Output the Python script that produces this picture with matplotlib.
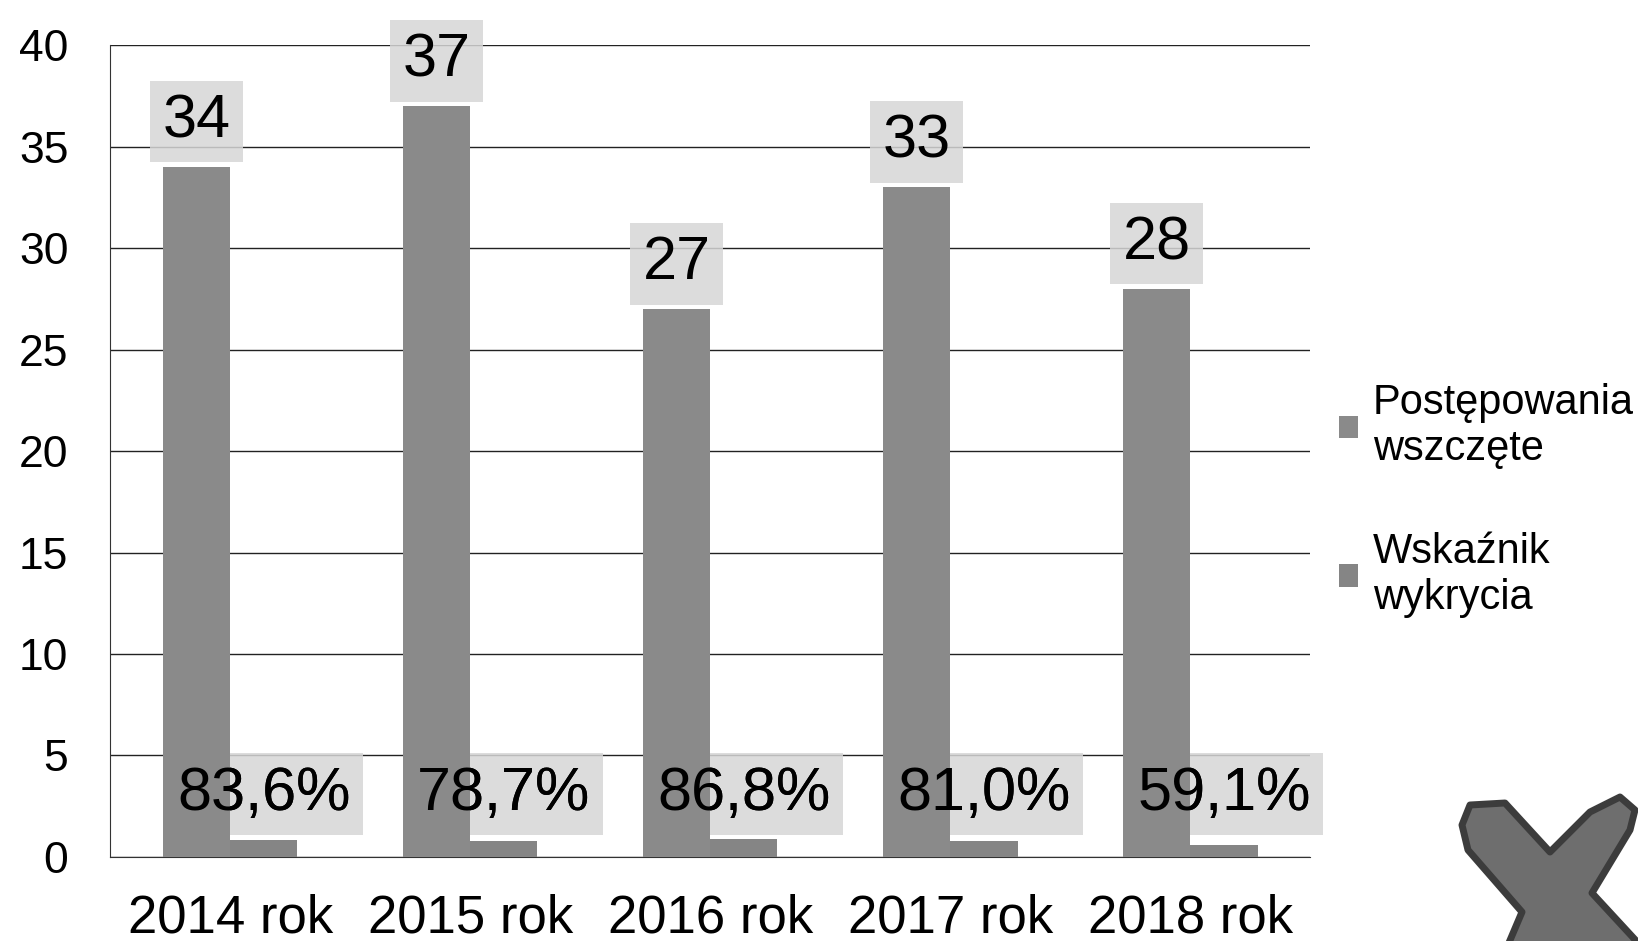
import numpy as np
import matplotlib
matplotlib.use("Agg")
import matplotlib.pyplot as plt
from matplotlib.patches import Polygon

plt.rcParams['font.family'] = ['Liberation Sans', 'DejaVu Sans']

years = ['2014 rok', '2015 rok', '2016 rok', '2017 rok', '2018 rok']
wszczete = [34, 37, 27, 33, 28]
wskaznik = [83.6, 78.7, 86.8, 81.0, 59.1]  # in percent
wskaznik_labels = ['83,6%', '78,7%', '86,8%', '81,0%', '59,1%']
y_ticks = [0, 5, 10, 15, 20, 25, 30, 35, 40]

fig = plt.figure(figsize=(16.38, 9.41), dpi=100)
ax = fig.add_axes([0.0672, 0.0893, 0.7328, 0.8627])

x = np.arange(len(years))
w = 0.28
c1 = '#8a8a8a'
c2 = '#858585'
box = dict(boxstyle='square,pad=0.2', facecolor='#d6d6d6', edgecolor='none', alpha=0.85)

ax.bar(x - w / 2, wszczete, w, color=c1, label='Postępowania\nwszczęte', zorder=3)
ax.bar(x + w / 2, np.array(wskaznik) / 100, w, color=c2, label='Wskaźnik\nwykrycia', zorder=3)

for xi, v in zip(x, wszczete):
    ax.annotate(str(v), (xi - w / 2, v), xytext=(0, 12), textcoords='offset points',
                ha='center', va='bottom', fontsize=44, bbox=box, zorder=4)

for xi, lab in zip(x, wskaznik_labels):
    ax.text(xi + w / 2, 3.1, lab, ha='center', va='center', fontsize=44,
            bbox=box, zorder=2)
    ax.text(xi + w / 2, 3.1, lab, ha='center', va='center', fontsize=44, zorder=5)

ax.set_xlim(-0.5, len(years) - 0.5)
ax.set_ylim(0, 40)
ax.set_yticks(y_ticks)
ax.set_xticks(x)
ax.set_xticklabels(years)
ax.tick_params(axis='y', length=0, labelsize=32, pad=30)
ax.tick_params(axis='x', length=0, labelsize=38, pad=26)
ax.yaxis.grid(True, color='#222222', linewidth=1.0)
ax.set_axisbelow(True)
for s in ['top', 'right']:
    ax.spines[s].set_visible(False)
ax.spines['left'].set_color('#333333')
ax.spines['bottom'].set_color('#333333')

fig.legend(loc='center left', bbox_to_anchor=(0.805, 0.468), frameon=False,
           fontsize=30, handlelength=0.45, handleheight=0.45, handletextpad=0.35,
           labelspacing=1.5, borderpad=0)

# decorative logo shape in the corner (pixel outline, y measured from top)
logo_px = [(1470, 805), (1505, 803), (1550, 852), (1590, 812), (1620, 797),
           (1635, 810), (1630, 830), (1592, 893), (1640, 945), (1508, 945),
           (1522, 912), (1468, 850), (1462, 825)]
logo = Polygon([(px / 1638, 1 - py / 941) for px, py in logo_px], closed=True,
               transform=fig.transFigure, facecolor='#6e6e6e', edgecolor='#3c3c3c',
               linewidth=5, joinstyle='round')
fig.patches.append(logo)

fig.savefig('out.png', dpi=100)
